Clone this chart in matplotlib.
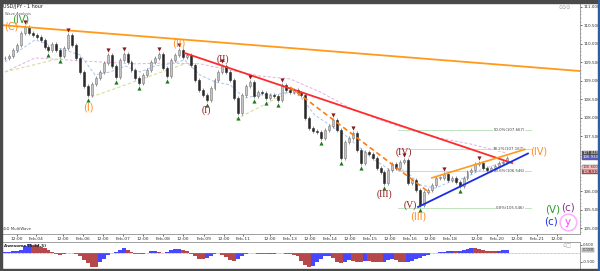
import numpy as np
import matplotlib.pyplot as plt
from matplotlib.patches import Rectangle

# hourly closes (bar index = hour since start)
closes = [
    109.62, 109.67, 109.83, 109.97, 110.30, 110.46, 110.30, 110.24, 110.19, 110.11,
    109.92, 109.83, 110.00, 109.83, 109.67, 109.89, 110.24, 109.97, 109.62, 109.24,
    108.86, 108.62, 108.91, 109.08, 109.24, 109.48, 109.70, 109.40, 109.10, 109.56,
    109.73, 109.51, 109.29, 109.08, 108.94, 109.16, 109.29, 109.51, 109.62, 109.73,
    109.35, 109.13, 109.56, 109.70, 109.83, 109.65, 109.70, 109.43, 109.02, 108.75,
    108.62, 108.48, 108.80, 109.02, 109.24, 109.40, 109.24, 109.02, 108.53, 108.13,
    108.62, 108.86, 108.97, 108.59, 108.70, 108.67, 108.53, 108.62, 108.59, 108.48,
    108.89, 108.75, 108.70, 108.75, 108.67, 108.62, 107.99, 107.72, 107.64, 107.61,
    107.45, 107.67, 107.78, 107.94, 107.67, 106.91, 107.34, 107.45, 107.59, 107.12,
    106.77, 107.07, 107.02, 106.91, 106.64, 106.53, 106.23, 106.58, 106.75, 106.64,
    106.80, 106.85, 106.23, 106.31, 106.04, 105.63, 105.99, 106.04, 106.18, 106.37,
    106.37, 106.47, 106.31, 106.37, 106.26, 106.15, 106.37, 106.53, 106.58, 106.75,
    106.77, 106.64, 106.58, 106.64, 106.69, 106.77, 106.80, 106.91,
]

# awesome oscillator per bar
ao = [
    0.06, 0.08, 0.10, 0.14, 0.20, 0.40, 0.55, 0.50, 0.45, 0.38,
    0.28, 0.18, 0.08, -0.05, -0.12, -0.06, 0.02, 0.00, -0.05, -0.20,
    -0.40, -0.60, -0.80, -0.80, -0.55, -0.35, -0.10, 0.00, 0.05, 0.20,
    0.28, 0.20, 0.08, -0.05, -0.08, -0.06, 0.02, 0.10, 0.12, 0.05,
    0.00, 0.05, 0.15, 0.22, 0.24, 0.20, 0.10, -0.05, -0.20, -0.35,
    -0.38, -0.30, -0.15, -0.05, 0.00, -0.10, -0.25, -0.40, -0.48, -0.35,
    -0.15, -0.05, 0.00, -0.02, -0.05, -0.05, -0.08, -0.06, -0.05, -0.02,
    0.00, -0.03, -0.05, -0.10, -0.20, -0.45, -0.70, -0.80, -0.75, -0.55,
    -0.35, -0.20, -0.15, -0.30, -0.55, -0.60, -0.50, -0.40, -0.45, -0.55,
    -0.55, -0.45, -0.45, -0.50, -0.55, -0.55, -0.50, -0.40, -0.35, -0.40,
    -0.50, -0.55, -0.50, -0.45, -0.38, -0.30, -0.20, -0.10, -0.02, 0.02,
    0.05, 0.08, 0.10, 0.12, 0.10, 0.12, 0.18, 0.24, 0.30, 0.28,
    0.22, 0.18, 0.14, 0.12, 0.12, 0.14, 0.16, 0.18,
]

fractal_lows = [11, 14, 21, 28, 34, 41, 51, 59, 63, 66, 69, 80, 85, 90, 96, 105, 115]
fractal_highs = [5, 16, 26, 30, 39, 44, 55, 62, 70, 83, 88, 101, 111, 120]

# moving averages (sparse reading)
ma_fast_x = [0, 3.8, 7.6, 11.4, 15.2, 19.0, 22.8, 26.6, 30.4, 34.2, 37.9, 41.7, 45.5, 49.3,
             53.1, 56.9, 60.7, 64.5, 68.3, 72.1, 74.6, 78.4, 82.2, 86.0, 89.8, 93.6, 97.4,
             101.2, 105.0, 108.8, 112.6, 116.4, 120.2, 124.0, 127.0]
ma_fast_y = [109.51, 109.83, 110.11, 109.97, 109.83, 109.70, 109.16, 109.24, 109.40, 109.24,
             109.40, 109.46, 109.56, 109.16, 108.97, 108.89, 108.53, 108.62, 108.62, 108.70,
             108.59, 108.07, 107.80, 107.53, 107.18, 106.85, 106.58, 106.58, 106.18, 106.09,
             106.26, 106.37, 106.58, 106.72, 106.83]
ma_slow_x = [0, 7.6, 16.4, 24.0, 32.9, 40.5, 49.3, 56.9, 64.5, 72.1, 79.7, 87.3, 94.9,
             102.5, 110.0, 117.6, 127.0]
ma_slow_y = [109.24, 109.62, 109.56, 109.51, 109.46, 109.48, 109.46, 109.29, 109.13, 109.05,
             108.70, 108.26, 107.94, 107.67, 107.45, 107.29, 107.04]

# drawn lines: (x0, x1), (p0, p1)
top_line = ([-1, 146], [110.51, 109.26])
red_line = ([45.5, 128.3], [109.75, 106.77])
orange_dash = ([72.1, 107.5], [108.83, 105.96])
orange_top = ([108.0, 131.5], [106.37, 107.14])
blue_line = ([104.5, 132.3], [105.58, 107.03])
zig_lines = [([0, 14.4], [109.24, 109.62]),
             ([21.8, 46.0], [108.56, 109.48]),
             ([58.4, 72.9], [107.96, 108.75])]

fib_levels = [107.665, 107.165, 106.546, 105.546]
fib_labels = ["50.0%(107.667)", "38.2%(107.167)", "23.6%(106.546)", "0.0%(105.546)"]

tick_pos = [3.0, 7.8, 14.7, 19.7, 24.8, 29.9, 34.9, 40.0, 45.0, 50.3, 55.4, 60.2, 67.0, 72.1,
            77.2, 82.2, 87.3, 92.3, 97.4, 102.5, 107.5, 112.6, 119.4, 124.5, 129.5, 134.6, 139.6]
tick_lbl = ["12:00", "Feb-04", "12:00", "Feb-06", "12:00", "Feb-07", "12:00", "Feb-08", "12:00",
            "Feb-09", "12:00", "Feb-11", "12:00", "Feb-13", "12:00", "Feb-14", "12:00", "Feb-15",
            "12:00", "Feb-16", "12:00", "Feb-18", "12:00", "Feb-20", "12:00", "Feb-21", "12:00"]

price_ticks = [105.0, 105.5, 106.0, 107.5, 108.0, 108.5, 109.0, 109.5, 110.0, 110.5, 111.0]
price_tags = [107.04, 106.93, 106.66, 106.53]
tag_colors = ['#4a4a4a', '#5a5ab8', '#f0c8c8', '#b84848']
tag_text = ['white', 'white', '#902020', 'white']

plt.rcParams['font.family'] = ['DejaVu Sans']

fig = plt.figure(figsize=(6, 2.71), dpi=100)
ax = fig.add_axes([2/600, 37/271, 578/600, 231/271])
ax2 = fig.add_axes([2/600, 2/271, 578/600, 27/271])

x = np.arange(len(closes))
c = np.array(closes)
o = np.r_[c[0], c[:-1]]
wick = 0.05
hi = np.maximum(o, c) + wick
lo = np.minimum(o, c) - wick

ax.vlines(x, lo, hi, color='#808080', lw=0.6, zorder=3)
for i in range(len(c)):
    bottom = min(o[i], c[i])
    h = max(abs(c[i] - o[i]), 0.01)
    up = c[i] >= o[i]
    ax.add_patch(Rectangle((i - 0.25, bottom), 0.5, h,
                           facecolor='#c4c4c4' if up else '#2a2a2a',
                           edgecolor='#7a7a7a' if up else '#2a2a2a', lw=0.4, zorder=4))

ax.plot(ma_fast_x, ma_fast_y, color='#a9c3f2', lw=0.7, ls=(0, (3, 2)), zorder=2)
ax.plot(ma_slow_x, ma_slow_y, color='#e2b0e2', lw=0.7, ls=(0, (3, 2)), zorder=2)
for xs, ys in zig_lines:
    ax.plot(xs, ys, color='#d8dca0', lw=0.8, ls=(0, (3, 2)), zorder=2)

ax.plot(top_line[0], top_line[1], color='#ff9a1a', lw=1.3, zorder=5)
ax.plot(red_line[0], red_line[1], color='#ff2a2a', lw=1.3, zorder=5)
ax.plot(orange_dash[0], orange_dash[1], color='#ff7a10', lw=1.2, ls=(0, (3, 2)), zorder=5)
ax.plot(orange_top[0], orange_top[1], color='#ff9a1a', lw=1.2, zorder=5)
ax.plot(blue_line[0], blue_line[1], color='#1a2ee0', lw=1.3, zorder=5)

ax.plot(fractal_lows, lo[fractal_lows] - 0.08, '^', color='#1f7a1f', ms=3.0, mew=0, zorder=6)
ax.plot(fractal_highs, hi[fractal_highs] + 0.08, 'v', color='#8a1a1a', ms=3.0, mew=0, zorder=6)

for lvl, lab in zip(fib_levels, fib_labels):
    ax.plot([99.5, 133], [lvl, lvl], color='#bfe3bf', lw=0.7, zorder=1)
    ax.text(131.5, lvl, lab, fontsize=2.8, color='#404040', ha='right', va='center', zorder=2,
            bbox=dict(facecolor='white', edgecolor='none', pad=0.3))

orange = '#ff8c1a'
dred = '#8b1a1a'


def wave(text, i, p, dx, dy, color, size=7, family='DejaVu Sans', ha='center'):
    ax.annotate(text, (i, p), xytext=(dx, dy), textcoords='offset pixels', ha=ha, va='center',
                color=color, fontsize=size, family=family, zorder=7)


wave("(C)", 5, c[5], -13, 0, orange)
wave("(IV)", 5, c[5], -4, 7, '#2e9a2e')
wave("(I)", 21, c[21], 0, -13, orange)
wave("(II)", 44, c[44], 0, 7, orange)
wave("(I)", 51, c[51], 0, -10, dred, family='Liberation Serif')
wave("(II)", 55, c[55], 0, 7, dred, family='Liberation Serif')
wave("(III)", 96, c[96], 0, -11, dred, family='Liberation Serif')
wave("(IV)", 101, c[101], 0, 8, dred, family='Liberation Serif')
wave("(V)", 105, c[105], -10, 0, dred, family='Liberation Serif')
wave("(III)", 105, c[105], -2, -11, orange)
wave("(IV)", orange_top[0][1], orange_top[1][1], 5, -2, orange, ha='left')

ax.text(0.953, 0.108, "(V)", transform=ax.transAxes, color='#2e9a2e', fontsize=7.5, ha='center', va='center')
ax.text(0.979, 0.113, "(c)", transform=ax.transAxes, color='#8b2f8b', fontsize=7.5, ha='center', va='center')
ax.text(0.950, 0.056, "(c)", transform=ax.transAxes, color='#2030e0', fontsize=7.5, ha='center', va='center')
ax.plot(0.979, 0.052, 'o', ms=12, mfc='white', mec='#ffb3ff', mew=1.2, transform=ax.transAxes, zorder=6)
ax.text(0.979, 0.052, "y", transform=ax.transAxes, color='#ff40ff', fontsize=7.5, ha='center', va='center', zorder=7)

ax.set_xlim(-0.76, 145.46)
ax.set_ylim(104.848, 111.108)
ax.yaxis.tick_right()
ax.set_yticks(price_ticks)
ax.set_yticklabels(["%.3f" % v for v in price_ticks])
ax.set_yticks(np.arange(104.9, 111.1, 0.1), minor=True)
ax.tick_params(axis='y', which='major', labelsize=3.0, length=1.5, width=0.5, pad=0.8, colors='#303030')
ax.tick_params(axis='y', which='minor', length=0.8, width=0.4, colors='#808080')
ax.set_xticks(tick_pos)
ax.set_xticklabels(tick_lbl)
ax.tick_params(axis='x', labelsize=3.2, length=1.5, width=0.5, pad=0.5, colors='#303030')
for s in ['top', 'left']:
    ax.spines[s].set_visible(False)
for s in ['right', 'bottom']:
    ax.spines[s].set_color('#909090')
    ax.spines[s].set_linewidth(0.6)

for p, bg, fg in zip(price_tags, tag_colors, tag_text):
    ax.text(1.004, p, "%.3f" % p, transform=ax.get_yaxis_transform(), fontsize=2.8, color=fg,
            ha='left', va='center', bbox=dict(facecolor=bg, edgecolor='#606060', lw=0.3, pad=0.3))

ax.text(0.002, 0.995, "USD/JPY - 1 hour", transform=ax.transAxes, fontsize=3.5, va='top', color='#202020')
ax.text(0.006, 0.96, "Wave Analysis", transform=ax.transAxes, fontsize=2.6, va='top', color='#606060')
ax.text(0.002, 0.012, "\u2299\u2299 MultiWave", transform=ax.transAxes, fontsize=2.8, va='bottom', color='#404040')
ax.text(0.985, 0.99, "\u2299\u2299\u2299", transform=ax.transAxes, fontsize=3.5, va='top', ha='right', color='#a0a0a0')
ax.text(0.99, 0.01, "\u2299\u2299", transform=ax.transAxes, fontsize=3.5, va='bottom', ha='right', color='#a0a0a0')

# awesome oscillator panel
a = np.array(ao)
rising = np.r_[True, a[1:] > a[:-1]]
ax2.bar(x, a, width=1.0, color=np.where(rising, '#4747ff', '#b4484a'), lw=0)
ax2.axhline(0, color='#909090', lw=0.5, ls=(0, (1, 1)))
ax2.set_xlim(-0.76, 145.46)
ax2.set_ylim(-0.94, 0.65)
ax2.yaxis.tick_right()
ax2.set_yticks([0.5, -0.5])
ax2.set_yticklabels(["0.500", "-0.500"])
ax2.set_xticks([])
ax2.tick_params(axis='y', labelsize=2.8, length=1.5, width=0.5, pad=0.8, colors='#303030')
for s in ['left', 'bottom']:
    ax2.spines[s].set_visible(False)
for s in ['right', 'top']:
    ax2.spines[s].set_color('#909090')
    ax2.spines[s].set_linewidth(0.6)
ax2.text(1.004, a[-1], "%.3f" % a[-1], transform=ax2.get_yaxis_transform(), fontsize=2.8, color='#202020',
         ha='left', va='center', bbox=dict(facecolor='#d8d8d8', edgecolor='#606060', lw=0.3, pad=0.3))
ax2.text(0.003, 0.93, "Awesome (5,34,5)", transform=ax2.transAxes, fontsize=3, va='top', color='#202020',
         fontweight='bold')
ax2.text(0.985, 0.95, "\u2299\u25a1", transform=ax2.transAxes, fontsize=3.5, va='top', ha='right', color='#a0a0a0')

# outer frame
fig.patches.append(Rectangle((0, 268/271), 1, 3/271, transform=fig.transFigure, color='#4a4a4a'))
fig.patches.append(Rectangle((0, 0), 2/600, 1, transform=fig.transFigure, color='#4a4a4a'))
fig.patches.append(Rectangle((0, 0), 1, 2/271, transform=fig.transFigure, color='#4a4a4a'))
fig.patches.append(Rectangle((598/600, 0), 2/600, 1, transform=fig.transFigure, color='#2f5f9f'))

fig.savefig('out.png', dpi=100)
